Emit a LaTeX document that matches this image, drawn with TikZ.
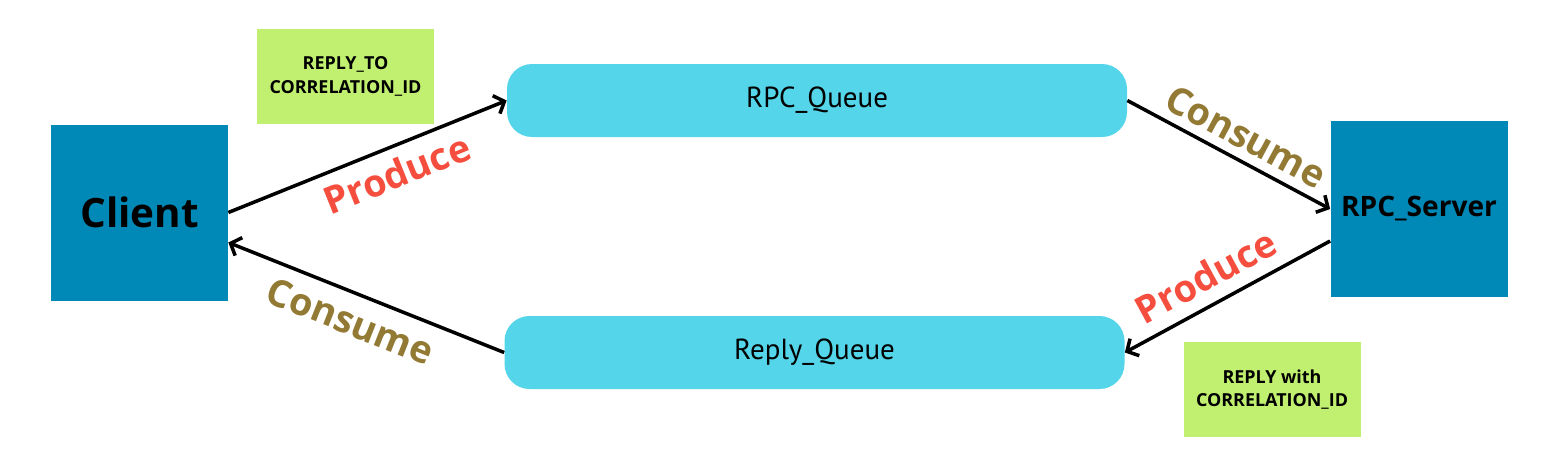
\documentclass[tikz,border=0pt]{standalone}
\usepackage{fontspec}
\setmainfont{Open Sans}
\newfontfamily\queuefont{PT Sans}
\usepackage{xcolor}
\usepackage{tikz}
\usetikzlibrary{arrows.meta, positioning, calc}
\definecolor{myblue}{RGB}{0,137,182}
\definecolor{mycyan}{RGB}{84,213,233}
\definecolor{mygreen}{RGB}{193,240,112}
\definecolor{myred}{RGB}{245,78,62}
\definecolor{myolive}{RGB}{147,122,52}
\tikzset{
  party/.style={rectangle, fill=myblue, minimum width=3.54cm,
    minimum height=3.52cm, font=\bfseries, inner sep=0pt},
  queue/.style={rectangle, fill=mycyan, rounded corners=0.5cm,
    minimum width=12.4cm, minimum height=1.46cm,
    font=\queuefont\fontsize{16.5}{19}\selectfont},
  note/.style={rectangle, fill=mygreen, minimum width=3.54cm,
    minimum height=1.9cm, align=center,
    font=\bfseries\fontsize{10.2}{13.5}\selectfont},
  arrow/.style={-{Straight Barb[length=5pt, width=11pt]}, line width=2pt, color=black},
  prodlabel/.style={sloped, font=\bfseries\fontsize{21.5}{25}\selectfont, text=myred, inner sep=2pt},
  conslabel/.style={sloped, font=\bfseries\fontsize{21.5}{25}\selectfont, text=myolive, inner sep=2pt}
}
\begin{document}
\begin{tikzpicture}
  \useasboundingbox (0,0) rectangle (31.3,9.14);

  % Parties
  \node[party, font=\bfseries\fontsize{23}{28}\selectfont] (client) at (2.79,4.89) {Client};
  \node[party, font=\bfseries\fontsize{16}{20}\selectfont] (server) at (28.38,4.96) {RPC\_Server};

  % Queues
  \node[queue] (rpcq) at (16.34,7.13) {RPC\_Queue};
  \node[queue] (replyq) at (16.29,2.09) {Reply\_Queue};

  % Message properties
  \node[note] (replyto) at (6.91,7.61) {REPLY\_TO\\CORRELATION\_ID};
  \node[note] (replywith) at (25.44,1.35) {REPLY with\\CORRELATION\_ID};

  % Request path
  \draw[arrow] (client.east) -- (rpcq.west)
    node[prodlabel, pos=0.57, below=4pt] {Produce};
  \draw[arrow] (rpcq.east) -- (server.west)
    node[conslabel, pos=0.53, above=3pt] {Consume};

  % Reply path
  \draw[arrow] ([yshift=-0.64cm]server.west) -- (replyq.east)
    node[prodlabel, pos=0.54, above=5pt] {Produce};
  \draw[arrow] (replyq.west) -- ([yshift=-0.6cm]client.east)
    node[conslabel, pos=0.52, below=5pt] {Consume};
\end{tikzpicture}
\end{document}
